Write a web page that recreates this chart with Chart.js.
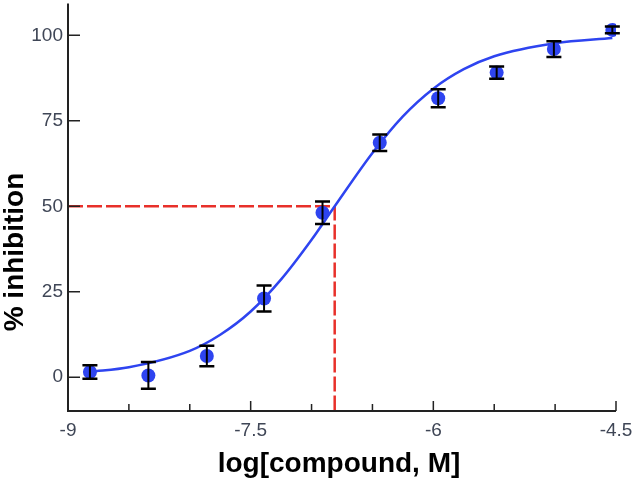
<!DOCTYPE html>
<html>
<head>
<meta charset="utf-8">
<script src="https://cdn.jsdelivr.net/npm/chart.js@4.4.1/dist/chart.umd.min.js"></script>
<style>
  body { margin: 0; background: #fff; }
  #wrap { width: 638px; height: 485px; position: relative; }
</style>
</head>
<body>
<div id="wrap"><canvas id="doseChart"></canvas></div>
<script>
// measured points (mean % inhibition with SEM)
const logConc = [-8.82, -8.34, -7.86, -7.39, -6.91, -6.44, -5.96, -5.48, -5.01, -4.53];
const inhibition = [1.5, 0.5, 6.2, 23.0, 48.1, 68.6, 81.6, 89.1, 96.0, 101.6];
const sem = [2.0, 3.9, 3.0, 3.8, 3.3, 2.4, 2.6, 1.8, 2.3, 1.0];

// fitted curve
const curveX = [-8.82, -8.5, -8.0, -7.75, -7.5, -7.25, -7.0, -6.81, -6.5, -6.25, -6.0, -5.75, -5.5, -5.0, -4.53];
const curveY = [1.6, 2.9, 7.7, 12.4, 19.2, 28.6, 40.2, 50.0, 65.6, 76.3, 84.4, 90.1, 93.9, 97.7, 99.2];

// IC50 marker
const ic50 = -6.81;
const halfEffect = 50;

// axes
const xTickLabels = [-9, -7.5, -6, -4.5];
const xMinorTicks = [-8.5, -8, -7, -6.5, -5.5, -5];
const yTickLabels = [0, 25, 50, 75, 100];
const xMin = -9, xMax = -4.5, yMin = -9.9, yMax = 108.3;
const yAxisTop = 109.3; // y axis line runs a bit past the plot top

const blue = '#2e44f0';
const red = '#e8302a';
const axisColor = '#222';
const tickColor = '#3f4656';

// axis lines, inward ticks, error bars and titles
const decorations = {
    id: 'decorations',
    afterDatasetsDraw(chart) {
        const ctx = chart.ctx;
        const xs = chart.scales.x;
        const ys = chart.scales.y;
        const area = chart.chartArea;

        ctx.save();
        // error bars
        ctx.strokeStyle = '#000';
        logConc.forEach((x, i) => {
            const px = xs.getPixelForValue(x);
            const top = ys.getPixelForValue(inhibition[i] + sem[i]);
            const bot = ys.getPixelForValue(inhibition[i] - sem[i]);
            ctx.lineWidth = 2;
            ctx.beginPath();
            ctx.moveTo(px, top);
            ctx.lineTo(px, bot);
            ctx.stroke();
            ctx.lineWidth = 2.5;
            ctx.beginPath();
            ctx.moveTo(px - 7.5, top);
            ctx.lineTo(px + 7.5, top);
            ctx.moveTo(px - 7.5, bot);
            ctx.lineTo(px + 7.5, bot);
            ctx.stroke();
        });

        // axis lines
        ctx.strokeStyle = axisColor;
        ctx.lineWidth = 2;
        ctx.beginPath();
        ctx.moveTo(area.left, ys.getPixelForValue(yAxisTop));
        ctx.lineTo(area.left, area.bottom);
        ctx.lineTo(area.right, area.bottom);
        ctx.stroke();

        // ticks
        ctx.lineWidth = 1.5;
        ctx.beginPath();
        yTickLabels.forEach(v => {
            const py = ys.getPixelForValue(v);
            ctx.moveTo(area.left, py);
            ctx.lineTo(area.left + 12, py);
        });
        xTickLabels.forEach(v => {
            const px = xs.getPixelForValue(v);
            ctx.moveTo(px, area.bottom);
            ctx.lineTo(px, area.bottom - 10);
        });
        xMinorTicks.forEach(v => {
            const px = xs.getPixelForValue(v);
            ctx.moveTo(px, area.bottom);
            ctx.lineTo(px, area.bottom - 7);
        });
        ctx.stroke();

        // axis titles
        ctx.fillStyle = '#000';
        ctx.font = 'bold 28px "Liberation Sans", Arial, sans-serif';
        ctx.textAlign = 'center';
        ctx.textBaseline = 'middle';
        ctx.fillText('log[compound, M]', 339, 464);
        ctx.translate(15, 252);
        ctx.rotate(-Math.PI / 2);
        ctx.fillText('% inhibition', 0, 0);
        ctx.restore();
    }
};

const curveData = curveX.map((x, i) => ({ x: x, y: curveY[i] }));
const pointData = logConc.map((x, i) => ({ x: x, y: inhibition[i] }));
const ic50Data = [
    { x: xMin, y: halfEffect },
    { x: ic50, y: halfEffect },
    { x: ic50, y: yMin }
];

const ctx = document.getElementById('doseChart');

new Chart(ctx, {
    type: 'scatter',
    data: {
        datasets: [
            {
                label: 'data',
                data: pointData,
                backgroundColor: blue,
                borderWidth: 0,
                pointRadius: 7,
                order: 1
            },
            {
                type: 'line',
                label: 'fit',
                data: curveData,
                borderColor: blue,
                borderWidth: 2.5,
                pointRadius: 0,
                cubicInterpolationMode: 'monotone',
                fill: false,
                order: 2
            },
            {
                type: 'line',
                label: 'IC50',
                data: ic50Data,
                borderColor: red,
                borderWidth: 2.5,
                borderDash: [15, 4],
                pointRadius: 0,
                tension: 0,
                fill: false,
                order: 3
            }
        ]
    },
    options: {
        responsive: true,
        maintainAspectRatio: false,
        animation: false,
        layout: { padding: { top: 2, right: 22, left: 0, bottom: 0 } },
        plugins: {
            legend: { display: false },
            tooltip: { enabled: false },
            title: { display: false }
        },
        scales: {
            x: {
                type: 'linear',
                min: xMin,
                max: xMax,
                grid: { display: false, drawTicks: false },
                border: { display: false },
                afterBuildTicks: s => { s.ticks = xTickLabels.map(v => ({ value: v })); },
                afterFit: s => {
                    s.height = 74;
                    s.paddingLeft = 0;
                    s.paddingRight = 0;
                },
                ticks: {
                    autoSkip: false,
                    maxRotation: 0,
                    padding: 8,
                    color: tickColor,
                    font: { size: 19, family: '"Liberation Sans", Arial, sans-serif' },
                    callback: v => String(v)
                }
            },
            y: {
                min: yMin,
                max: yMax,
                grid: { display: false, drawTicks: false },
                border: { display: false },
                afterBuildTicks: s => { s.ticks = yTickLabels.map(v => ({ value: v })); },
                afterFit: s => {
                    s.width = 68;
                    s.paddingTop = 0;
                    s.paddingBottom = 0;
                },
                ticks: {
                    padding: 5,
                    color: tickColor,
                    font: { size: 19, family: '"Liberation Sans", Arial, sans-serif' },
                    callback: v => String(v)
                }
            }
        }
    },
    plugins: [decorations]
});
</script>
</body>
</html>
